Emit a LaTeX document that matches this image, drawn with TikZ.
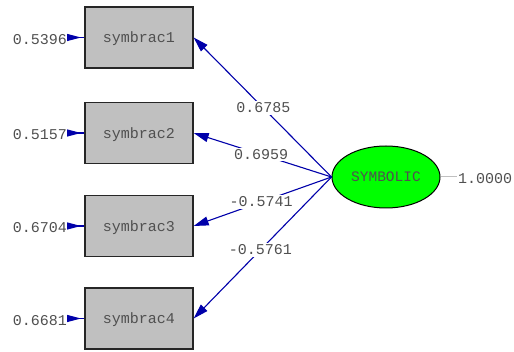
\documentclass[tikz,border=0pt]{standalone}
\usepackage{fontspec}
\setmonofont{Liberation Mono}
\usetikzlibrary{arrows.meta,shapes.geometric}
\definecolor{pathblue}{RGB}{0,0,170}
\definecolor{boxgray}{RGB}{192,192,192}
\definecolor{textgray}{RGB}{80,80,80}
\definecolor{latgreen}{RGB}{0,255,0}
\tikzset{
  obsbox/.style={draw=black!85, line width=1.3pt, fill=boxgray,
    minimum width=108pt, minimum height=61pt, inner sep=0pt, text depth=0pt,
    font=\ttfamily\fontsize{15}{15}\selectfont, text=textgray},
  latent/.style={draw=black, line width=1pt, fill=latgreen, ellipse,
    minimum width=108pt, minimum height=62pt, inner sep=0pt, text depth=0pt,
    font=\ttfamily\fontsize{14.5}{15}\selectfont, text=textgray},
  numlabel/.style={font=\ttfamily\fontsize{15}{15}\selectfont, text=textgray, inner sep=1pt},
  loadlabel/.style={numlabel, fill=white, inner sep=1.5pt},
  loading/.style={draw=pathblue, line width=1.1pt,
    -{Triangle[length=15pt,width=9pt]}},
  errarrow/.style={draw=pathblue, line width=1.1pt,
    {Triangle[reversed,length=14pt,width=7pt]}-},
  varline/.style={draw=boxgray, line width=1pt}
}
\begin{document}
\begin{tikzpicture}[x=1pt,y=-1pt]
  \useasboundingbox (0,0) rectangle (514,352);

  % observed indicators
  \node[obsbox] (b1) at (139,37.5) {symbrac1};
  \node[obsbox] (b2) at (139,133) {symbrac2};
  \node[obsbox] (b3) at (139,226) {symbrac3};
  \node[obsbox] (b4) at (139,318.5) {symbrac4};

  % latent factor
  \node[latent] (sym) at (386,177) {SYMBOLIC};

  % error variances
  \foreach \i/\y/\v in {1/37.5/0.5396, 2/133/0.5157, 3/226/0.6704, 4/318.5/0.6681}{
    \coordinate (e\i) at (67,\y);
    \node[numlabel, anchor=east] (ev\i) at (68,\y+2) {\v};
    \draw[errarrow] (e\i) -- (b\i.west);
  }

  % factor variance
  \coordinate (fv) at (457,177);
  \draw[varline] (sym.east) -- (fv);
  \node[numlabel, anchor=west] (fvl) at (457,179) {1.0000};

  % loadings
  \draw[loading] (sym.west) -- node[loadlabel, pos=0.495] (l1) {0.6785} (b1.east);
  \draw[loading] (sym.west) -- node[loadlabel, pos=0.51] (l2) {0.6959} (b2.east);
  \draw[loading] (sym.west) -- node[loadlabel, pos=0.51] (l3) {-0.5741} (b3.east);
  \draw[loading] (sym.west) -- node[loadlabel, pos=0.516] (l4) {-0.5761} (b4.east);
\end{tikzpicture}
\end{document}
